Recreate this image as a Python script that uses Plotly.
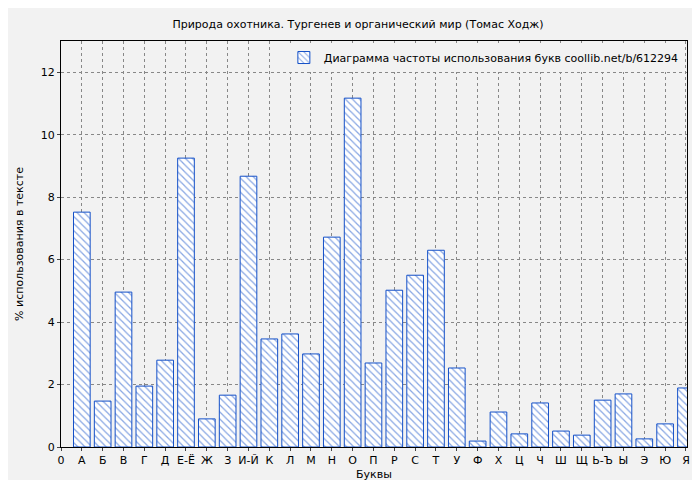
import plotly.graph_objects as go

letters = ["А","Б","В","Г","Д","Е-Ё","Ж","З","И-Й","К","Л","М","Н","О","П","Р","С","Т","У","Ф","Х","Ц","Ч","Ш","Щ","Ь-Ъ","Ы","Э","Ю","Я"]
values = [7.52,1.47,4.96,1.95,2.78,9.25,0.9,1.66,8.67,3.46,3.62,2.98,6.72,11.17,2.69,5.02,5.5,6.3,2.53,0.19,1.12,0.42,1.41,0.51,0.38,1.5,1.7,0.26,0.74,1.89]
tick_labels = ["0"] + letters

xs = list(range(1, len(letters) + 1))
fig = go.Figure(go.Bar(
    x=xs, y=values, width=0.8,
    name="Диаграмма частоты использования букв coollib.net/b/612294",
    marker=dict(color="white", line=dict(color="#1450c8", width=1),
                pattern=dict(shape="\\", fgcolor="#1450c8", bgcolor="white", size=5, solidity=0.25)),
))
fig.update_layout(
    width=700, height=480,
    paper_bgcolor="#f2f2f2", plot_bgcolor="#f2f2f2",
    margin=dict(l=53, r=21, t=33, b=41, autoexpand=False),
    font=dict(family="DejaVu Sans", size=11, color="black"),
    title=dict(text="Природа охотника. Тургенев и органический мир (Томас Ходж)", x=0.5, y=0.975, xanchor="center", font=dict(size=11)),
    showlegend=True,
    legend=dict(x=0.995, y=0.995, xanchor="right", yanchor="top", bgcolor="#f2f2f2", font=dict(size=11), itemwidth=30),
    xaxis=dict(range=[0, 30.05], tickmode="array", tickvals=list(range(0, 31)), ticktext=tick_labels,
               showgrid=True, gridcolor="#888", griddash="dot", zeroline=False, ticks="outside", ticklen=3,
               showline=True, linecolor="black", mirror=True, automargin=False,
               title=dict(text="Буквы", standoff=4, font=dict(size=11))),
    yaxis=dict(range=[0, 13], dtick=2, showgrid=True, gridcolor="#888", griddash="dot", zeroline=False,
               ticks="outside", ticklen=3, showline=True, linecolor="black", mirror=True, automargin=False,
               title=dict(text="% использования в тексте", standoff=14, font=dict(size=11))),
)
fig.write_html("out.html")
